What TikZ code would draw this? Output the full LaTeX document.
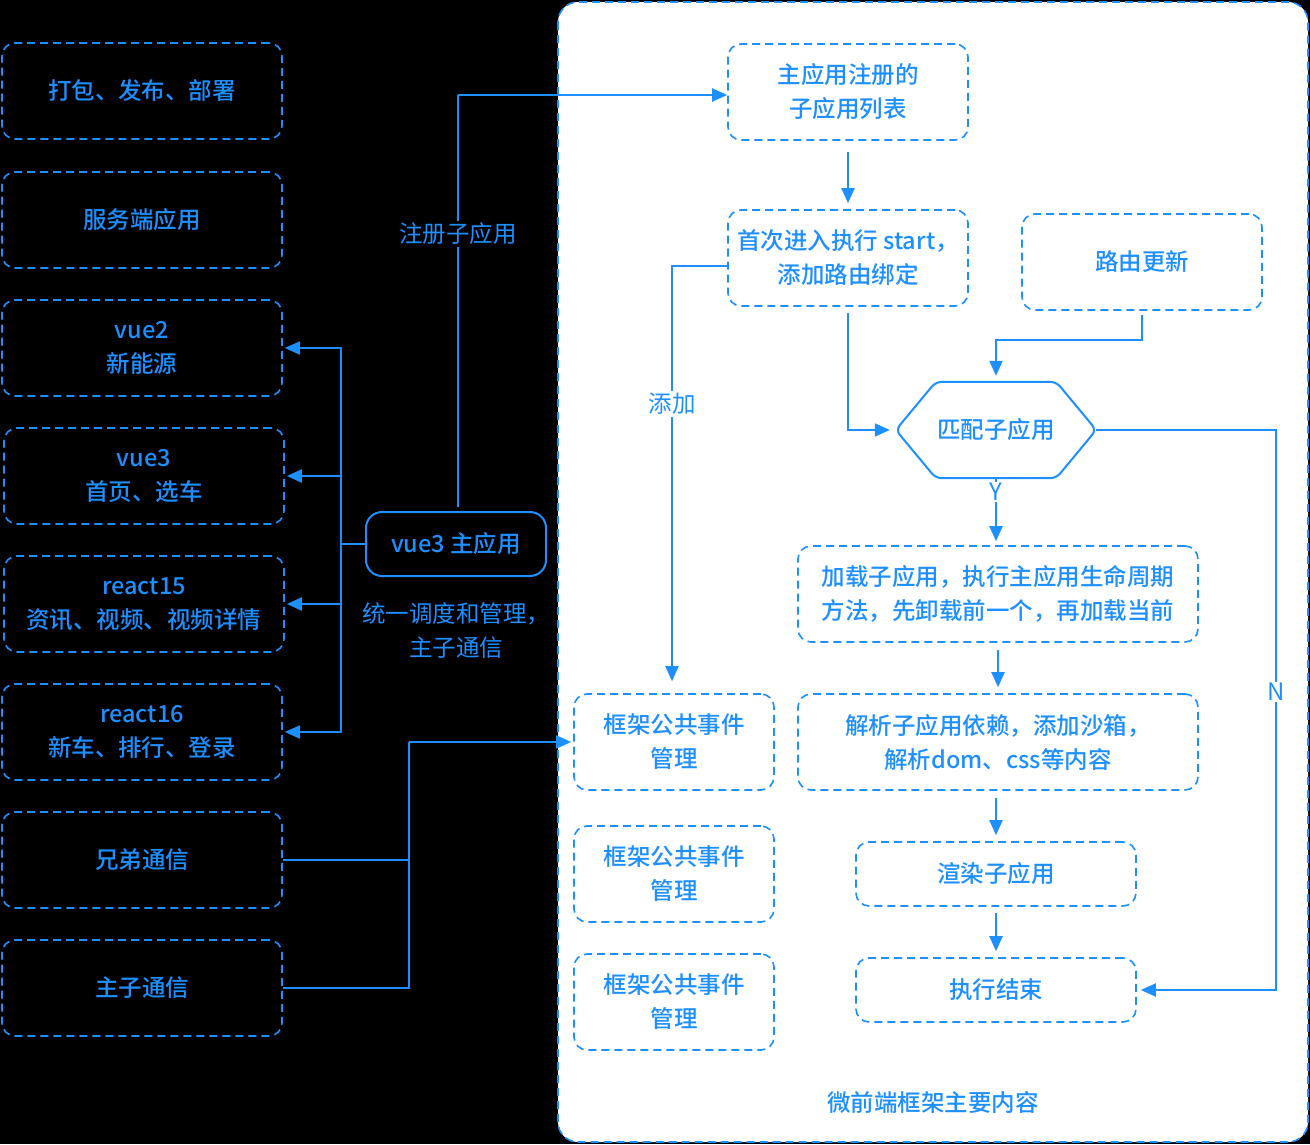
\documentclass[tikz,border=0pt]{standalone}
\usepackage{fontspec}
\setmainfont{Noto Sans CJK SC}[BoldFont={Noto Sans CJK SC Medium}]
\usetikzlibrary{arrows.meta}
\definecolor{blu}{HTML}{1E8FFF}

\begin{document}
\begin{tikzpicture}[x=1pt,y=-1pt,
  txt/.style={text=blu, font=\fontsize{23.5}{34}\selectfont, align=center, inner sep=2pt},
  boxtxt/.style={text=blu, font=\fontsize{23.5}{34}\selectfont\bfseries, align=center, inner sep=0pt},
  dbox/.style={boxtxt, draw=blu, line width=1.6pt, dash pattern=on 8pt off 5pt,
    rounded corners=13pt, minimum width=#1, minimum height=96pt},
  sbox/.style={boxtxt, draw=blu, line width=1.6pt, dash pattern=on 8pt off 5pt,
    rounded corners=13pt, minimum width=#1, minimum height=64pt},
  wire/.style={draw=blu, line width=2pt},
  arr/.style={wire, -{Triangle[length=15pt,width=13pt]}},
  lbl/.style={txt, fill=#1},
  yn/.style={lbl=white, font=\fontsize{24}{26}\selectfont, inner sep=1pt},
]
% canvas
\fill[black] (0,0) rectangle (1310,1144);
\useasboundingbox (0,0) rectangle (1310,1144);

% framework panel
\draw[fill=white, draw=blu, line width=1.6pt, dash pattern=on 8pt off 5pt,
  rounded corners=20pt] (558,2) rectangle (1308,1142);
\node[boxtxt] (title) at (933,1102) {微前端框架主要内容};

% left column
\node[dbox=280pt] (L1) at (142,91)  {打包、发布、部署};
\node[dbox=280pt] (L2) at (142,220) {服务端应用};
\node[dbox=280pt] (L3) at (142,348) {vue2\\新能源};
\node[dbox=280pt] (L4) at (144,476) {vue3\\首页、选车};
\node[dbox=280pt] (L5) at (144,604) {react15\\资讯、视频、视频详情};
\node[dbox=280pt] (L6) at (142,732) {react16\\新车、排行、登录};
\node[dbox=280pt] (L7) at (142,860) {兄弟通信};
\node[dbox=280pt] (L8) at (142,988) {主子通信};

% host application
\node[boxtxt, draw=blu, line width=2pt, rounded corners=16pt,
  minimum width=180pt, minimum height=64pt] (M) at (456,544) {vue3 主应用};
\node[txt] (Mnote) at (456,631) {统一调度和管理，\\主子通信};

% right panel nodes
\node[dbox=240pt] (A) at (848,92)  {主应用注册的\\子应用列表};
\node[dbox=240pt] (B) at (848,258) {首次进入执行 start，\\添加路由绑定};
\node[dbox=240pt] (C) at (1142,262) {路由更新};
\node[boxtxt, minimum width=200pt, minimum height=96pt] (D) at (996,430) {匹配子应用};
\draw[draw=blu, line width=2pt, rounded corners=6pt]
  (D.west) -- ([xshift=40pt]D.north west) -- ([xshift=-40pt]D.north east)
  -- (D.east) -- ([xshift=-40pt]D.south east) -- ([xshift=40pt]D.south west) -- cycle;
\node[dbox=400pt] (E) at (998,594) {加载子应用，执行主应用生命周期\\方法，先卸载前一个，再加载当前};
\node[dbox=400pt] (F) at (998,742) {解析子应用依赖，添加沙箱，\\解析dom、css等内容};
\node[sbox=280pt] (G) at (996,874) {渲染子应用};
\node[sbox=280pt] (H) at (996,990) {执行结束};
\node[dbox=200pt] (K1) at (674,742)  {框架公共事件\\管理};
\node[dbox=200pt] (K2) at (674,874)  {框架公共事件\\管理};
\node[dbox=200pt] (K3) at (674,1002) {框架公共事件\\管理};

% host application dispatches to the sub-applications
\coordinate (hub) at (341,544);
\draw[wire] (M.west) -- (hub);
\draw[arr, shorten >=2pt] (hub) |- (L3.east);
\draw[arr, shorten >=2pt] (hub) |- (L4.east);
\draw[arr, shorten >=2pt] (hub) |- (L5.east);
\draw[arr, shorten >=2pt] (hub) |- (L6.east);

% registration
\coordinate (reg) at (458,95);
\draw[wire, shorten <=4pt] ([xshift=2pt]M.north) -- (reg);
\draw[arr] (reg) -- (reg -| A.west);
\node[lbl=black] (regl) at (458,234) {注册子应用};

% communication
\coordinate (bus) at (409,742);
\draw[wire] (L7.east) -| (bus);
\draw[wire] (L8.east) -| (bus);
\draw[arr, shorten >=2pt] (bus) -- (K1.west);

% flow inside the framework
\draw[arr, shorten <=11pt, shorten >=6pt] (A.south) -- (B.north);
\draw[arr, shorten <=6pt, shorten >=6pt] (B.south) |- (D.west);
\draw[arr, shorten <=4pt, shorten >=6pt] (C.south) -- ++(0,29) -| (D.north);
\draw[arr, shorten >=12pt] ([yshift=-8pt]B.west) -| ([xshift=-2pt]K1.north);
\node[lbl=white] (addl) at (672,404) {添加};
\draw[arr, shorten >=4pt] (D.south) -- (E.north -| D.south);
\node[yn] (yl) at (996,492) {Y};
\coordinate (nturn) at (1276,430);
\draw[arr, shorten >=4pt] (D.east) -- (nturn) |- (H.east);
\node[yn] (nl) at (1276,692) {N};
\draw[arr, shorten <=7pt, shorten >=6pt] (E.south) -- (F.north);
\draw[arr, shorten <=7pt, shorten >=6pt] (F.south -| G.north) -- (G.north);
\draw[arr, shorten <=6pt, shorten >=6pt] (G.south) -- (H.north);
\end{tikzpicture}
\end{document}
